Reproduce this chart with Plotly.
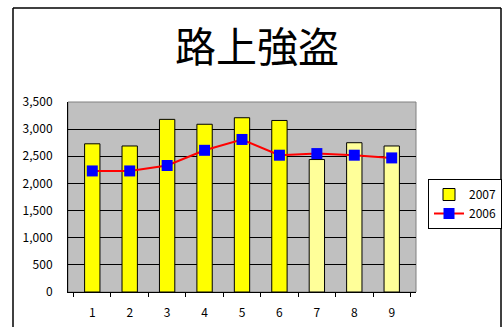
import plotly.graph_objects as go

categories = ["1", "2", "3", "4", "5", "6", "7", "8", "9"]
values_2007 = [2730, 2690, 3180, 3090, 3210, 3160, 2440, 2750, 2690]
values_2006 = [2230, 2230, 2330, 2610, 2810, 2520, 2550, 2520, 2470]
bar_colors = ["#FFFF00"] * 6 + ["#FFFF99"] * 3
y_ticks = [0, 500, 1000, 1500, 2000, 2500, 3000, 3500]
y_labels = ["0", "500", "1,000", "1,500", "2,000", "2,500", "3,000", "3,500"]
title_text = "路上強盗"

FONT = "Noto Sans CJK JP, DejaVu Sans, sans-serif"

fig = go.Figure()
fig.add_trace(go.Bar(
    x=categories, y=values_2007, name="2007",
    marker=dict(color=bar_colors, line=dict(color="#000000", width=1)),
))
fig.add_trace(go.Scatter(
    x=categories, y=values_2006, name="2006", mode="lines+markers",
    line=dict(color="#FF0000", width=2),
    marker=dict(symbol="square", size=11, color="#0000FF"),
))

L, R, T, B = 68, 87, 102, 35
PW, PH = 503 - L - R, 327 - T - B

fig.update_layout(
    width=503, height=327,
    margin=dict(l=L, r=R, t=T, b=B, pad=0, autoexpand=False),
    paper_bgcolor="#FFFFFF", plot_bgcolor="#C0C0C0",
    font=dict(family=FONT, size=11, color="#000000"),
    bargap=0.59,
    showlegend=True,
    title=dict(text=title_text, x=257 / 503, xanchor="center",
               y=1 - 48 / 327, yanchor="middle",
               font=dict(family=FONT, size=41, color="#000000")),
    legend=dict(xref="container", yref="container",
                x=428 / 503, y=1 - 179 / 327, xanchor="left", yanchor="top",
                bgcolor="#FFFFFF", bordercolor="#000000", borderwidth=1,
                font=dict(size=12), tracegroupgap=0, itemwidth=30),
    xaxis=dict(type="category", tickson="boundaries", ticks="outside", ticklen=4,
               tickcolor="#000000", showline=True, linecolor="#000000", linewidth=1,
               showgrid=False, ticklabelstandoff=10, tickfont=dict(size=12)),
    yaxis=dict(range=[0, 3500], tickvals=y_ticks, ticktext=y_labels,
               showline=True, linecolor="#000000", linewidth=1,
               gridcolor="#000000", gridwidth=1, ticks="", ticklabelstandoff=12,
               zeroline=False, tickfont=dict(size=12)),
)

# plot area border (top/right grey)
fig.add_shape(type="rect", xref="paper", yref="paper", x0=0, x1=1, y0=0, y1=1,
              line=dict(color="#808080", width=1), layer="below")
# outer chart frame
x_left = (13 - L) / PW
x_right = (501 - L) / PW
y_top = (T + PH - 8) / PH
y_bot = (T + PH - 340) / PH
fig.add_shape(type="line", xref="paper", yref="paper", x0=x_left, x1=x_left, y0=y_bot, y1=y_top,
              line=dict(color="#000000", width=1.5))
fig.add_shape(type="line", xref="paper", yref="paper", x0=x_left, x1=x_right, y0=y_top, y1=y_top,
              line=dict(color="#000000", width=1.5))
fig.add_shape(type="line", xref="paper", yref="paper", x0=x_right, x1=x_right, y0=y_bot, y1=y_top,
              line=dict(color="#000000", width=1.5))

fig.write_html("out.html")
